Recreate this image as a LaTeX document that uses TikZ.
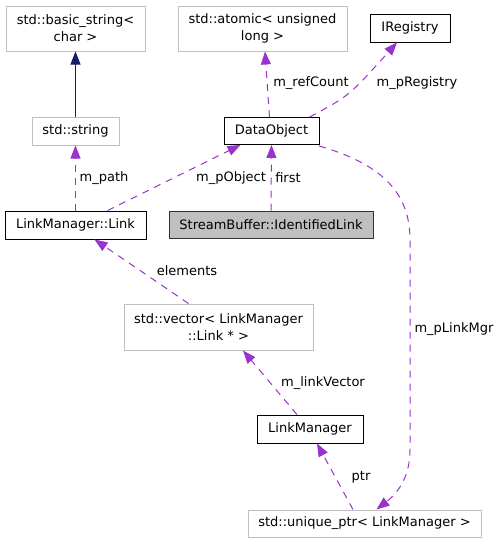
\documentclass[tikz,border=0pt]{standalone}
\usepackage{fontspec}
\setmainfont{DejaVu Sans}
\usetikzlibrary{arrows.meta,calc}
\definecolor{edgep}{HTML}{9A32CD}
\definecolor{edgen}{HTML}{191970}
\definecolor{boxg}{HTML}{BFBFBF}
\begin{document}
\begin{tikzpicture}[x=1pt,y=-1pt,
  every node/.style={font=\fontsize{13}{17}\selectfont, inner sep=0pt},
  gbox/.style={draw=boxg, line width=1pt, fill=white, align=center},
  bbox/.style={draw=black, line width=0.9pt, fill=white, align=center},
  hbox/.style={draw=black!80, line width=0.9pt, fill=boxg, align=center},
  member/.style={draw=edgep, line width=1pt, dash pattern=on 7pt off 6pt, -{Triangle[length=13pt,width=10pt]}},
  inherit/.style={draw=edgen, line width=1pt, -{Triangle[length=13pt,width=10pt]}},
  lbl/.style={fill=none}]
\useasboundingbox (0,0) rectangle (500,544);
% nodes
\node[gbox, minimum width=139pt, minimum height=45pt] (bs) at (75.5,28.5) {std::basic\_string<\\char >};
\node[gbox, minimum width=87pt, minimum height=28pt] (str) at (75.5,131) {std::string};
\node[gbox, minimum width=169pt, minimum height=45pt] (atom) at (262.5,28.5) {std::atomic< unsigned\\long >};
\node[bbox, minimum width=80pt, minimum height=28pt] (ireg) at (410,28) {IRegistry};
\node[bbox, minimum width=95pt, minimum height=27pt] (dobj) at (271.5,131) {DataObject};
\node[bbox, minimum width=141pt, minimum height=28pt] (link) at (75.5,225) {LinkManager::Link};
\node[hbox, minimum width=204pt, minimum height=27pt] (sbil) at (271,224.5) {StreamBuffer::IdentifiedLink};
\node[gbox, minimum width=189pt, minimum height=46pt] (vec) at (218.5,327) {std::vector< LinkManager\\::Link * >};
\node[bbox, minimum width=106pt, minimum height=28pt] (lm) at (310,429) {LinkManager};
\node[gbox, minimum width=233pt, minimum height=27pt] (up) at (364.5,523.5) {std::unique\_ptr< LinkManager >};
% edges
\draw[inherit] (str.north) -- (bs.south);
\draw[member] (link.north) -- (str.south);
\node[lbl] (lpath) at (104,178) {m\_path};
\draw[member] ([xshift=32pt]link.north) -- ([xshift=-31pt]dobj.south);
\node[lbl] (lpobj) at (231,178) {m\_pObject};
\draw[member] (sbil.north) -- (dobj.south);
\node[lbl] (lfirst) at (288,178) {first};
\draw[member] ([xshift=-2pt]dobj.north) -- ([xshift=2.5pt]atom.south);
\node[lbl] (lref) at (311,83) {m\_refCount};
\coordinate (c1) at (349,96);
\draw[member] ([xshift=38pt]dobj.north) .. controls (c1) .. ([xshift=-13pt]ireg.south);
\node[lbl] (lreg) at (417,83) {m\_pRegistry};
\coordinate (c2) at (410,240);
\coordinate (c3) at (410,450);
\draw[member] ([xshift=47.5pt,yshift=-1pt]dobj.south) .. controls (385,165) and (410,195) .. (c2) -- (c3) .. controls (410,480) and (395,495) .. ([xshift=12pt]up.north);
\node[lbl] (lmgr) at (454,329) {m\_pLinkMgr};
\draw[member] ([xshift=-30pt]vec.north) -- ([xshift=19pt]link.south);
\node[lbl] (lel) at (187,271) {elements};
\draw[member] ([xshift=-13pt]lm.north) -- ([xshift=24.5pt]vec.south);
\node[lbl] (llv) at (323,383) {m\_linkVector};
\draw[member] ([xshift=-11.5pt]up.north) -- ([xshift=7pt]lm.south);
\node[lbl] (lptr) at (361,477) {ptr};
\end{tikzpicture}
\end{document}
